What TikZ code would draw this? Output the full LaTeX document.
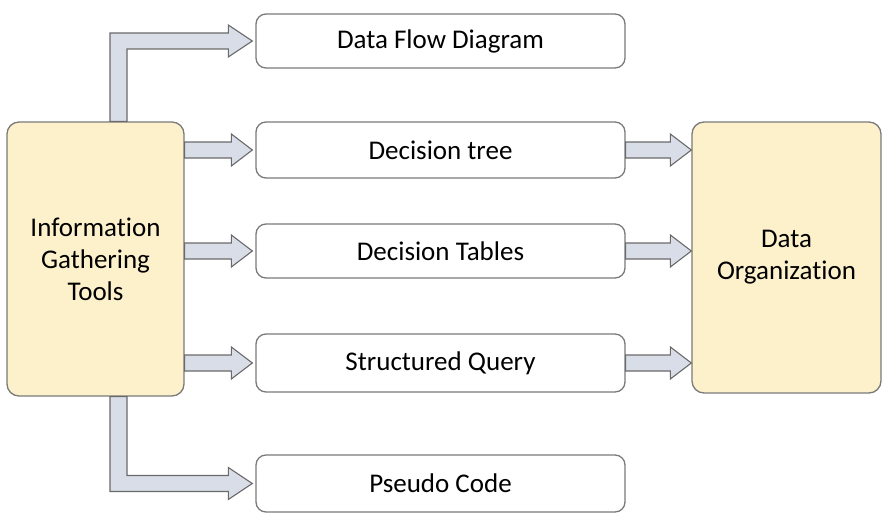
\documentclass[tikz,border=0pt]{standalone}
\usepackage{fontspec}
\setmainfont[Ligatures=NoCommon]{Carlito}
\usetikzlibrary{calc, positioning}

\definecolor{boxcream}{HTML}{FDF1CC}
\definecolor{boxline}{HTML}{7A7A7A}
\definecolor{arrowfill}{HTML}{D8DDE7}
\definecolor{arrowline}{HTML}{6A6A6A}

% freccia a blocco orizzontale: #1 inizio, #2 punta
\newcommand{\harrow}[2]{%
	\draw [blockarrow] ($(#1)+(0,-8)$) -- ($(#2)+(-21,-8)$) -- ($(#2)+(-21,-16)$) -- (#2)
		-- ($(#2)+(-21,16)$) -- ($(#2)+(-21,8)$) -- ($(#1)+(0,8)$) -- cycle;}

\begin{document}
\begin{tikzpicture}[
			x=1pt, y=-1pt,
			mainbox/.style={rectangle, rounded corners=12pt, minimum width=177pt, minimum height=274pt, align=center, draw=boxline, line width=1.3pt, fill=boxcream, font=\fontsize{27}{32}\selectfont},
			toolbox/.style={rectangle, rounded corners=10pt, minimum width=369pt, minimum height=55pt, align=center, draw=boxline, line width=1.3pt, fill=white, font=\fontsize{27}{32}\selectfont},
			blockarrow/.style={draw=arrowline, fill=arrowfill, line width=1.1pt, line join=miter}
		]
		\useasboundingbox (0,0) rectangle (895,527);

		% --- BLOCCHI PRINCIPALI ---
		\node (info) [mainbox] at (95.5,259) {Information\\Gathering\\Tools};
		\node (dataorg) [mainbox, minimum width=189pt, minimum height=271pt] at (786.5,257.5) {Data\\Organization};

		% --- STRUMENTI ---
		\node (dfd) [toolbox, minimum height=54pt] at (440.5,41) {Data Flow Diagram};
		\node (dtree) [toolbox, minimum height=56pt] at (440.5,150) {Decision tree};
		\node (dtables) [toolbox, minimum height=54pt] at (440.5,251) {Decision Tables};
		\node (squery) [toolbox, minimum height=58pt] at (440.5,363) {Structured Query};
		\node (pcode) [toolbox, minimum height=57pt] at (440.5,483.5) {Pseudo Code};

		% --- PUNTI DI APPOGGIO ---
		\coordinate (up) at ($(info.north)+(23,0)$);
		\coordinate (dn) at ($(info.south)+(23,0)$);
		\coordinate (tipdfd) at ($(dfd.west)+(-3,0)$);
		\coordinate (tippc) at ($(pcode.west)+(-3,0)$);

		% --- FRECCE ---
		% verso l'alto
		\draw [blockarrow] ($(up)+(-8.5,0)$) |- ($(tipdfd)+(-24,-8)$) -- ($(tipdfd)+(-24,-16)$) -- (tipdfd)
			-- ($(tipdfd)+(-24,16)$) -- ($(tipdfd)+(-24,8)$) -| ($(up)+(8.5,0)$) -- cycle;
		% verso il basso
		\draw [blockarrow] ($(dn)+(-8.5,0)$) |- ($(tippc)+(-24,8)$) -- ($(tippc)+(-24,16)$) -- (tippc)
			-- ($(tippc)+(-24,-16)$) -- ($(tippc)+(-24,-8)$) -| ($(dn)+(8.5,0)$) -- cycle;

		% a destra degli strumenti
		\harrow{info.east |- dtree.west}{$(dtree.west)+(-3,0)$}
		\harrow{info.east |- dtables.west}{$(dtables.west)+(-3,0)$}
		\harrow{info.east |- squery.west}{$(squery.west)+(-3,0)$}
		\harrow{dtree.east}{dataorg.west |- dtree.east}
		\harrow{dtables.east}{dataorg.west |- dtables.east}
		\harrow{squery.east}{dataorg.west |- squery.east}
	\end{tikzpicture}
\end{document}
